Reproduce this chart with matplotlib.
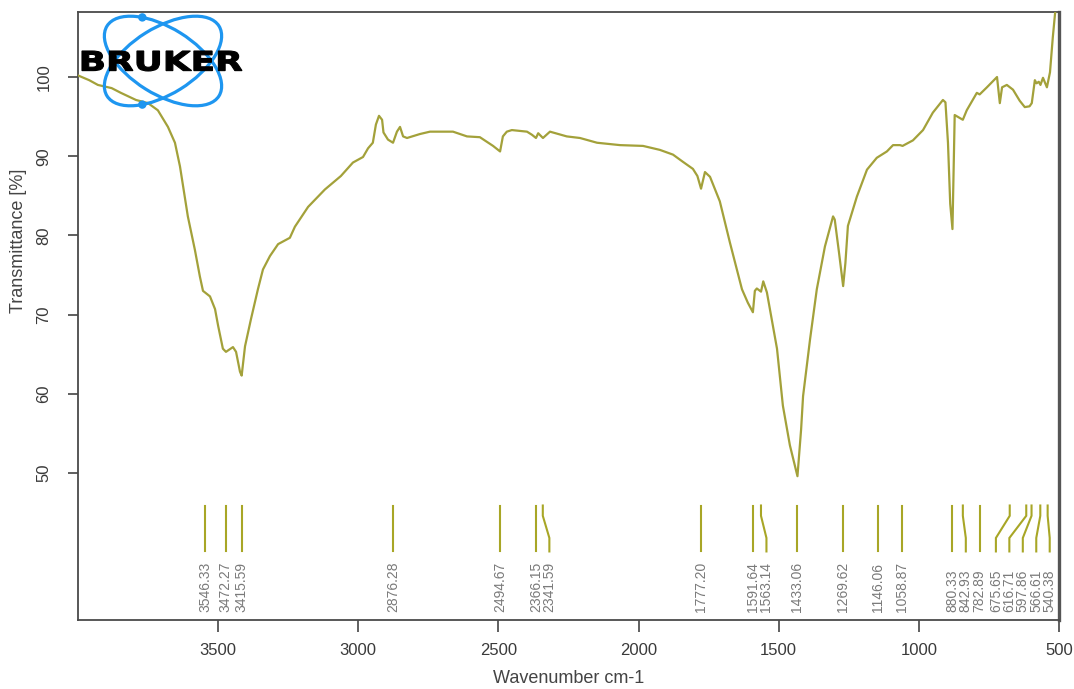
import numpy as np
import matplotlib
matplotlib.use("Agg")
import matplotlib.pyplot as plt
from matplotlib.patches import Ellipse, Circle, PathPatch
from matplotlib.textpath import TextPath
from matplotlib.font_manager import FontProperties
from matplotlib.transforms import Affine2D

# spectrum (wavenumber cm-1, transmittance %)
wavenumber = [4000, 3960, 3929, 3880, 3847, 3793, 3750, 3715, 3679, 3654,
              3636, 3608, 3583, 3565, 3554, 3529, 3511, 3500, 3483, 3472,
              3447, 3436, 3422, 3416, 3404, 3383, 3358, 3340, 3315, 3286,
              3244, 3226, 3179, 3119, 3062, 3019, 2983, 2965, 2948, 2937,
              2926, 2915, 2910, 2894, 2876, 2862, 2851, 2840, 2826, 2780,
              2744, 2662, 2612, 2566, 2519, 2494, 2484, 2470, 2452, 2398,
              2380, 2366, 2358, 2341, 2316, 2256, 2209, 2148, 2066, 1984,
              1924, 1877, 1842, 1806, 1790, 1777, 1763, 1745, 1710, 1674,
              1649, 1631, 1610, 1592, 1585, 1578, 1563, 1555, 1542, 1506,
              1485, 1460, 1433, 1420, 1413, 1388, 1364, 1335, 1306, 1300,
              1285, 1270, 1262, 1253, 1221, 1185, 1150, 1114, 1092, 1067,
              1058, 1021, 985, 950, 914, 905, 896, 888, 880, 876,
              872, 853, 843, 829, 793, 783, 757, 721, 711, 703,
              686, 664, 640, 622, 605, 597, 586, 580, 572, 566,
              557, 543, 532, 522, 514, 505]
transmittance = [100.2, 99.6, 99.0, 98.6, 98.0, 97.1, 96.7, 95.8, 93.7, 91.7,
                 88.7, 82.4, 78.2, 74.8, 73.0, 72.3, 70.7, 68.6, 65.7, 65.3,
                 65.9, 65.3, 62.8, 62.3, 66.0, 69.4, 73.2, 75.7, 77.4, 78.9,
                 79.7, 81.1, 83.6, 85.8, 87.5, 89.2, 89.9, 91.0, 91.7, 94.0,
                 95.1, 94.6, 93.0, 92.1, 91.7, 93.1, 93.7, 92.5, 92.3, 92.8,
                 93.1, 93.1, 92.5, 92.4, 91.3, 90.6, 92.5, 93.1, 93.3, 93.1,
                 92.7, 92.3, 92.9, 92.3, 93.1, 92.5, 92.3, 91.7, 91.4, 91.3,
                 90.8, 90.2, 89.3, 88.4, 87.5, 85.9, 88.0, 87.4, 84.3, 79.1,
                 75.7, 73.2, 71.5, 70.3, 73.0, 73.3, 72.9, 74.2, 72.8, 65.7,
                 58.5, 53.5, 49.6, 55.5, 59.7, 66.9, 73.2, 78.6, 82.4, 82.0,
                 77.9, 73.6, 76.5, 81.2, 84.9, 88.3, 89.8, 90.6, 91.4, 91.4,
                 91.3, 92.0, 93.3, 95.5, 97.1, 96.8, 91.7, 84.0, 80.8, 88.0,
                 95.2, 94.8, 94.6, 95.8, 98.0, 97.8, 98.7, 100.0, 96.7, 98.7,
                 99.0, 98.4, 97.0, 96.2, 96.3, 96.7, 99.6, 99.2, 99.4, 99.0,
                 99.9, 98.7, 100.6, 105.0, 108.0, 110.0]

peaks = [3546.33, 3472.27, 3415.59, 2876.28, 2494.67, 2366.15, 2341.59,
         1777.20, 1591.64, 1563.14, 1433.06, 1269.62, 1146.06, 1058.87,
         880.33, 842.93, 782.89, 675.65, 616.71, 597.86, 566.61, 540.38]

x_ticks = [3500, 3000, 2500, 2000, 1500, 1000, 500]
y_ticks = [50, 60, 70, 80, 90, 100]

line_col = '#a3a13a'
mark_col = '#a8a626'
logo_blue = '#1e96f0'


def spread(pos, gap=48, lower=533):
    # push crowded peak labels apart, like the OPUS printout does
    out = list(pos)
    for i in range(1, len(out)):
        out[i] = min(out[i], out[i - 1] - gap)
    out[-1] = max(out[-1], lower)
    for i in range(len(out) - 2, -1, -1):
        out[i] = max(out[i], out[i + 1] + gap)
    return out


def on_ellipse(cx, cy, a, b, ang, t):
    ang, t = np.radians(ang), np.radians(t)
    x = cx + a * np.cos(t) * np.cos(ang) - b * np.sin(t) * np.sin(ang)
    y = cy + a * np.cos(t) * np.sin(ang) + b * np.sin(t) * np.cos(ang)
    return x, y


plt.rcParams['font.family'] = ['Liberation Sans', 'DejaVu Sans']
fig = plt.figure(figsize=(10.74, 6.89), dpi=100)
ax = fig.add_axes([0.0726, 0.1001, 0.9134, 0.8824])

ax.plot(wavenumber, transmittance, color=line_col, lw=1.6, zorder=3)

# peak markers and labels
label_pos = spread(peaks)
for p, lp in zip(peaks, label_pos):
    ax.plot([p, p, lp, lp], [45.9, 44.6, 41.8, 40.1], color=mark_col, lw=1.5,
            solid_joinstyle='miter')
    ax.text(lp, 32.5, f"{p:.2f}", rotation=90, rotation_mode='anchor',
            ha='left', va='center', fontsize=10, color='#7a7a7a')

ax.set_xlim(4000, 500)
ax.set_ylim(31.44, 108.2)
ax.set_xticks(x_ticks)
ax.set_xticklabels([str(v) for v in x_ticks])
ax.set_yticks(y_ticks)
ax.set_yticklabels([str(v) for v in y_ticks], rotation=90, va='center')
ax.tick_params(axis='both', direction='out', labelsize=12, labelcolor='#3a3a3a',
               color='#444444', width=1.2)
ax.tick_params(axis='x', length=8.5, pad=8)
ax.tick_params(axis='y', length=7, pad=12)
for side in ['left', 'bottom', 'top']:
    ax.spines[side].set_color('#4a4a4a')
    ax.spines[side].set_linewidth(1.3)
ax.spines['right'].set_color('#555555')
ax.spines['right'].set_linewidth(2.4)

ax.set_xlabel('Wavenumber cm-1', fontsize=13, color='#444444', labelpad=9)
ax.set_ylabel('Transmittance [%]', fontsize=13, color='#444444')
ax.yaxis.set_label_coords(-0.052, 0.623)

# Bruker logo, drawn in pixel coordinates of the figure
ov = fig.add_axes([0, 0, 1, 1], zorder=5)
ov.set_xlim(0, 1074)
ov.set_ylim(689, 0)
ov.axis('off')
ov.patch.set_alpha(0)
cx, cy, a, b = 163, 61, 66, 33
for ang in (32, -32):
    ov.add_patch(Ellipse((cx, cy), 2 * a, 2 * b, angle=ang, fill=False,
                         ec=logo_blue, lw=2.3))
for ang, t in ((32, 232), (-32, 128)):
    ov.add_patch(Circle(on_ellipse(cx, cy, a, b, ang, t), 4.2, fc=logo_blue,
                        ec='none'))

tp = TextPath((0, 0), 'BRUKER', size=10,
              prop=FontProperties(family='DejaVu Sans', weight='bold'))
ext = tp.get_extents()
tr = (Affine2D().translate(-ext.x0, -ext.y0)
      .scale(160 / ext.width, -20 / ext.height).translate(82, 71))
ov.add_patch(PathPatch(tr.transform_path(tp), fc='black', ec='black', lw=0.8))

fig.savefig('out.png', dpi=100)
